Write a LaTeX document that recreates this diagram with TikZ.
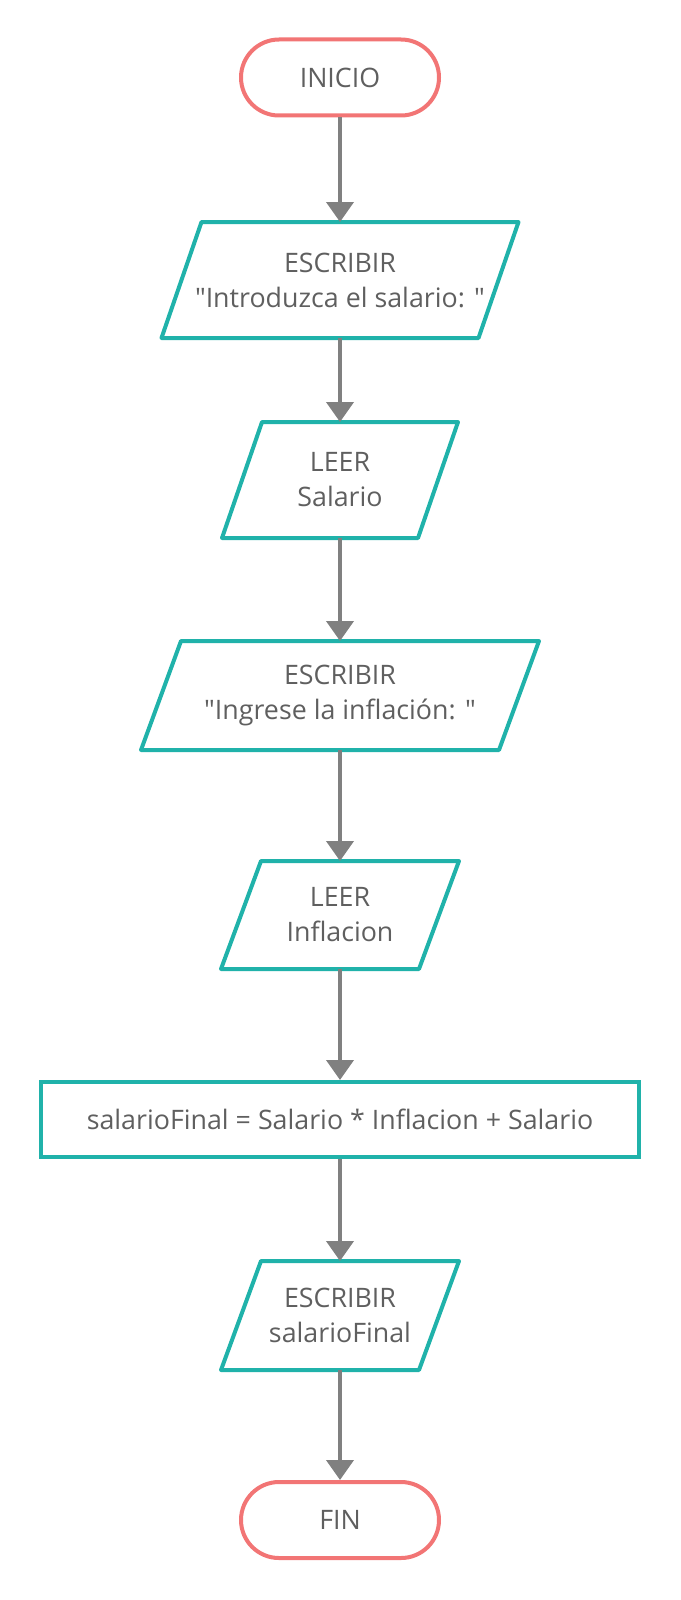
\documentclass[tikz,border=0pt]{standalone}
\usepackage{fontspec}
\setmainfont{Open Sans}[Ligatures=TeXOff]
\usetikzlibrary{arrows.meta}

\definecolor{termred}{RGB}{242,117,117}
\definecolor{ioteal}{RGB}{32,178,170}
\definecolor{flowgray}{RGB}{128,128,128}
\definecolor{textgray}{RGB}{95,95,95}

\begin{document}
\begin{tikzpicture}[x=1pt,y=-1pt,line width=4pt,
    every node/.style={font=\fontsize{26.8}{35}\selectfont,text=textgray,align=center},
    term/.style={draw=termred,rounded corners=38pt,minimum width=198pt,minimum height=76pt},
    io/.style 2 args={minimum width=#1,minimum height=#2,outer sep=0pt},
    proc/.style={draw=ioteal,minimum width=598pt,minimum height=75pt},
    flow/.style={draw=flowgray,-{Triangle[width=27pt,length=20pt]}}]
  \useasboundingbox (0,0) rectangle (680,1600);

  \node[term] (ini) at (340,77.5) {INICIO};
  \node[io={317pt}{116pt}] (esc1) at (340,280) {ESCRIBIR\\"Introduzca el salario: "};
  \node[io={196pt}{116pt}] (leer1) at (340,480) {LEER\\Salario};
  \node[io={358pt}{109pt}] (esc2) at (340,695.5) {ESCRIBIR\\"Ingrese la inflación: "};
  \node[io={198pt}{108pt}] (leer2) at (340,915) {LEER\\Inflacion};
  \node[proc] (calc) at (340,1119.5) {salarioFinal = Salario * Inflacion + Salario};
  \node[io={198pt}{109pt}] (esc3) at (340,1315.5) {ESCRIBIR\\salarioFinal};
  \node[term] (fin) at (340,1520) {FIN};

  % parallelograms round the input/output nodes
  \foreach \n in {esc1,leer1,esc2,leer2,esc3} {
    \draw[ioteal,line join=round] ([xshift=20pt]\n.north west) -- ([xshift=20pt]\n.north east)
      -- ([xshift=-20pt]\n.south east) -- ([xshift=-20pt]\n.south west) -- cycle;
  }

  \foreach \a/\b in {ini/esc1,esc1/leer1,leer1/esc2,esc2/leer2,leer2/calc,calc/esc3,esc3/fin} {
    \draw[flow] (\a) -- (\b);
  }
\end{tikzpicture}
\end{document}
